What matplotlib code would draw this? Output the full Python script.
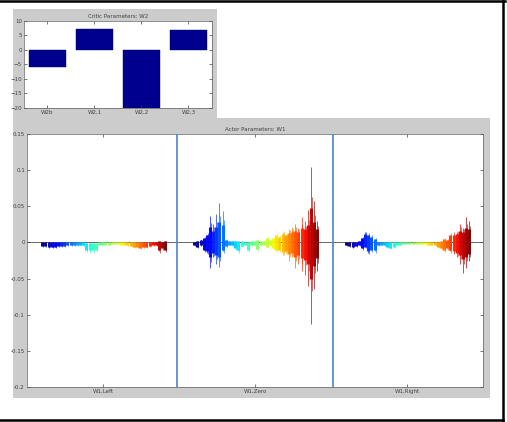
import numpy as np
import matplotlib
matplotlib.use('Agg')
import matplotlib.pyplot as plt
from matplotlib.patches import Rectangle
from matplotlib.lines import Line2D

# Critic parameters (small bar chart)
critic_labels = ['W2b', 'W2,1', 'W2,2', 'W2,3']
critic_values = [-5.9, 7.3, -20.0, 6.8]

# Actor parameters: spread (min / max) of each feature weight, three sections
actor_labels = ['W1,Left', 'W1,Zero', 'W1,Right']

left_lo = [-0.005, -0.005, -0.006, -0.006, -0.006, -0.005, -0.005, -0.005, -0.004, -0.004,
           -0.004, -0.004, -0.003, -0.004, -0.011, -0.012, -0.012, -0.010, -0.003, -0.003,
           -0.003, -0.003, -0.002, -0.002, -0.002, -0.003, -0.003, -0.004, -0.005, -0.006,
           -0.006, -0.007, -0.006, -0.006, -0.005, -0.004, -0.004, -0.012, -0.008, -0.011]
left_hi = [0.000, 0.000, 0.000, 0.000, 0.000, 0.000, 0.000, 0.000, 0.000, 0.000,
           0.000, 0.000, 0.000, 0.000, -0.001, -0.001, -0.001, -0.001, 0.000, 0.000,
           0.000, 0.000, 0.000, 0.000, 0.000, 0.000, 0.000, 0.000, 0.000, 0.000,
           0.000, 0.000, 0.000, 0.000, 0.000, 0.000, 0.000, 0.002, 0.001, 0.002]

zero_lo = [-0.004, -0.006, -0.004, -0.010, -0.015, -0.036, -0.020, -0.030, -0.034, -0.012,
           -0.005, -0.003, -0.004, -0.008, -0.012, -0.005, -0.003, -0.010, -0.004, -0.003,
           -0.009, -0.004, -0.003, -0.006, -0.004, -0.008, -0.012, -0.010, -0.018, -0.015,
           -0.025, -0.020, -0.035, -0.030, -0.040, -0.045, -0.060, -0.113, -0.065, -0.040]
zero_hi = [0.001, 0.002, 0.003, 0.006, 0.010, 0.037, 0.025, 0.040, 0.055, 0.044,
           0.004, 0.002, 0.002, 0.002, 0.002, 0.002, 0.001, 0.001, 0.002, 0.002,
           0.003, 0.002, 0.002, 0.006, 0.003, 0.006, 0.010, 0.008, 0.015, 0.010,
           0.018, 0.022, 0.025, 0.020, 0.035, 0.030, 0.045, 0.105, 0.057, 0.030]

right_lo = [-0.004, -0.005, -0.006, -0.005, -0.004, -0.008, -0.006, -0.015, -0.010, -0.012,
            -0.004, -0.003, -0.004, -0.006, -0.007, -0.006, -0.004, -0.003, -0.002, -0.002,
            -0.002, -0.002, -0.002, -0.002, -0.002, -0.002, -0.003, -0.003, -0.004, -0.006,
            -0.008, -0.010, -0.008, -0.012, -0.015, -0.020, -0.030, -0.042, -0.035, -0.025]
right_hi = [0.000, 0.000, 0.000, 0.001, 0.002, 0.006, 0.014, 0.010, 0.008, 0.005,
            0.001, 0.001, 0.000, 0.000, 0.000, 0.000, 0.000, 0.000, 0.000, 0.000,
            0.000, 0.000, 0.000, 0.000, 0.000, 0.000, 0.000, 0.000, 0.000, 0.001,
            0.002, 0.005, 0.004, 0.010, 0.012, 0.015, 0.025, 0.020, 0.035, 0.030]

actor_lo = [left_lo, zero_lo, right_lo]
actor_hi = [left_hi, zero_hi, right_hi]

gray = '#cccccc'
txt = '#404040'
fs = 4

fig = plt.figure(figsize=(5.07, 4.22), dpi=100)
fig.patch.set_facecolor('white')

# gray figure panels (matlab style), drawn behind the axes
fig.patches.append(Rectangle((0.0256, 0.7156), 0.402, 0.263, transform=fig.transFigure,
                             facecolor=gray, edgecolor='none', zorder=-5))
fig.patches.append(Rectangle((0.0256, 0.0569), 0.941, 0.6635, transform=fig.transFigure,
                             facecolor=gray, edgecolor='none', zorder=-5))

# black frame (top, right, bottom)
for xs, ys in [([0, 0.997], [0.997, 0.997]), ([0.993, 0.993], [0.003, 0.997]), ([0, 0.993], [0.005, 0.005])]:
    fig.lines.append(Line2D(xs, ys, transform=fig.transFigure, color='black', linewidth=1.8, zorder=-4))


def matlab_axes(ax):
    ax.set_facecolor('white')
    ax.tick_params(direction='in', length=2.5, width=0.5, labelsize=fs, colors=txt,
                   top=True, right=True, pad=1.5)
    for s in ax.spines.values():
        s.set_linewidth(0.5)
        s.set_color('#606060')


def core_of(v):
    # dense part of each spread: full when small, shrinking for the big spikes
    return np.sign(v) * np.minimum(np.abs(v), 0.006 + 0.4 * np.abs(v))


# small critic plot
ax1 = fig.add_axes([0.0473, 0.744, 0.3708, 0.2069])
matlab_axes(ax1)
xpos = np.arange(1, len(critic_values) + 1)
ax1.bar(xpos, critic_values, width=0.8, color='#00008f', edgecolor='#000050', linewidth=0.3)
ax1.set_xlim(0.5, 4.5)
ax1.set_ylim(-20, 10)
ax1.set_yticks(np.arange(-20, 11, 5))
ax1.set_xticks(xpos)
ax1.set_xticklabels(critic_labels)
ax1.set_title('Critic Parameters: W2', fontsize=fs, color=txt, pad=2)

# big actor plot
ax2 = fig.add_axes([0.0533, 0.0829, 0.8994, 0.5995])
matlab_axes(ax2)
ax2.axhline(0, color='#505050', linewidth=0.6, zorder=1)
for k in range(3):
    lo = np.array(actor_lo[k])
    hi = np.array(actor_hi[k])
    n = len(lo)
    xs = k + np.linspace(0.10, 0.91, n)
    cols = plt.cm.jet(np.linspace(0, 1, n))
    # thin spikes for the full spread, thick dense core near zero
    ax2.vlines(xs, lo, hi, colors=cols, linewidth=0.7, alpha=0.7, zorder=2)
    ax2.vlines(xs + 0.006, core_of(lo) * 1.3, core_of(hi) * 1.3, colors=cols,
               linewidth=0.6, alpha=0.7, zorder=2)
    ax2.vlines(xs, core_of(lo), core_of(hi), colors=cols,
               linewidth=2.2, alpha=0.95, zorder=3)
for sx in [0.985, 2.013]:
    ax2.axvline(sx, color='#4a86c8', linewidth=1.2, zorder=4)
ax2.set_xlim(0, 3)
ax2.set_ylim(-0.2, 0.15)
ax2.set_yticks([-0.2, -0.15, -0.1, -0.05, 0, 0.05, 0.1, 0.15])
ax2.set_yticklabels(['-0.2', '-0.15', '-0.1', '-0.05', '0', '0.05', '0.1', '0.15'])
ax2.set_xticks([0.5, 1.5, 2.5])
ax2.set_xticklabels(actor_labels)
ax2.set_title('Actor Parameters: W1', fontsize=fs, color=txt, pad=2)

plt.savefig('out.png', dpi=100, facecolor='white')
